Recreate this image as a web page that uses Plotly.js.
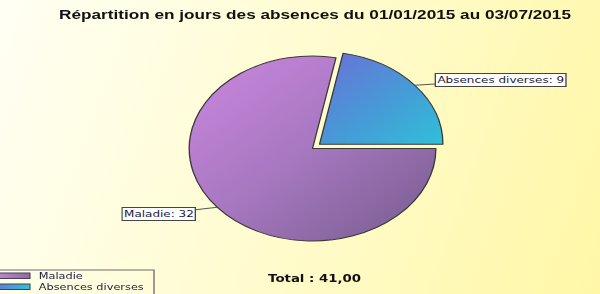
<!DOCTYPE html>
<html>
<head>
<meta charset="utf-8">
<script src="https://cdn.plot.ly/plotly-3.0.1.min.js"></script>
<style>
  html, body { margin: 0; padding: 0; width: 600px; height: 294px; overflow: hidden; }
  body { background: linear-gradient(110deg, #fffff4 0%, #fffcd2 45%, #fff7a6 100%); }
  /* the chart is laid out at 450px and widened to 600px, giving the oval pie and wide lettering */
  #chart { width: 450px; height: 294px; transform: scaleX(1.33333); transform-origin: 0 0; }
</style>
</head>
<body>
<div id="chart"></div>
<script>
const chartTitle = 'Répartition en jours des absences du 01/01/2015 au 03/07/2015';
const categories = ['Maladie', 'Absences diverses'];
const jours = [32, 9];
const pulls = [0, 0.074];

// slice gradients (diagonal) and legend swatch gradients (horizontal)
const sliceGradients = [
  [['0%', '#cc87e0'], ['50%', '#a677bf'], ['100%', '#755c8c']],
  [['0%', '#6b70d8'], ['55%', '#469bd6'], ['100%', '#2fc0d8']]
];
const swatchGradients = [
  [['0%', '#c688de'], ['100%', '#8f68ac']],
  [['0%', '#5f78d8'], ['100%', '#30c0e0']]
];

// geometry of the unscaled drawing
const W = 450, H = 294;
const cx = 234.4, cy = 148.5, R = 92.5;
const maxPull = Math.max(...pulls);
const half = R * (1 + maxPull);
const pieDomain = {
  x: [(cx - half) / W, (cx + half) / W],
  y: [1 - (cy + half) / H, 1 - (cy - half) / H]
};

const total = jours.reduce((a, b) => a + b, 0);
const rotation = 90; // first slice starts at 3 o'clock, going clockwise

// point on the rim at the middle of each slice, used as leader-line tip
let acc = 0;
const tips = jours.map((v, i) => {
  const a0 = rotation + acc / total * 360;
  acc += v;
  const a1 = rotation + acc / total * 360;
  const mid = (a0 + a1) / 2 * Math.PI / 180;
  const ox = cx + pulls[i] * R * Math.sin(mid);
  const oy = cy - pulls[i] * R * Math.cos(mid);
  return [ox + R * Math.sin(mid), oy - R * Math.cos(mid)];
});

// centres of the value boxes
const boxCentres = [[119.1, 214.0], [375.4, 79.5]];

const labelAnnotations = jours.map((v, i) => ({
  xref: 'paper', yref: 'paper',
  x: tips[i][0] / W, y: 1 - tips[i][1] / H,
  ax: boxCentres[i][0] - tips[i][0], ay: boxCentres[i][1] - tips[i][1],
  text: categories[i] + ': ' + v,
  showarrow: true, arrowhead: 0, arrowwidth: 1, arrowcolor: '#555',
  standoff: 0,
  bgcolor: '#ffffff', bordercolor: '#444', borderwidth: 1, borderpad: 1,
  font: { family: 'DejaVu Sans', size: 9, color: '#1a1a3a' }
}));

// hand-made legend in the lower-left corner
const legendTop = 270, rowH = 11;
const legendShapes = [{
  type: 'rect', xref: 'paper', yref: 'paper',
  x0: -5 / W, x1: 115.5 / W, y0: 1 - 300 / H, y1: 1 - legendTop / H,
  line: { color: '#6a6a6a', width: 1 }, fillcolor: 'rgba(0,0,0,0)'
}].concat(categories.map((c, i) => ({
  type: 'rect', xref: 'paper', yref: 'paper',
  x0: -5 / W, x1: 22.5 / W,
  y0: 1 - (legendTop + 8.5 + i * rowH) / H, y1: 1 - (legendTop + 3 + i * rowH) / H,
  line: { color: '#444', width: 0.8 }, fillcolor: swatchGradients[i][0][1]
})));
const legendTexts = categories.map((c, i) => ({
  xref: 'paper', yref: 'paper',
  x: 26.5 / W, xanchor: 'left',
  y: 1 - (legendTop + 5.7 + i * rowH) / H, yanchor: 'middle',
  text: c, showarrow: false,
  font: { family: 'DejaVu Sans', size: 8.5, color: '#1a1a40' }
}));

const totalAnnotation = {
  xref: 'paper', yref: 'paper',
  x: 236 / W, y: 1 - 278 / H, xanchor: 'center', yanchor: 'middle',
  text: 'Total : ' + total.toFixed(2).replace('.', ','),
  showarrow: false,
  font: { family: 'DejaVu Sans', size: 10, weight: 'bold', color: '#111' }
};

const data = [{
  type: 'pie',
  labels: categories,
  values: jours,
  pull: pulls,
  sort: false,
  direction: 'clockwise',
  rotation: rotation,
  textinfo: 'none',
  hoverinfo: 'label+value',
  domain: pieDomain,
  marker: {
    colors: sliceGradients.map(g => g[1][1]),
    line: { color: '#3a3a3a', width: 1 }
  },
  showlegend: false
}];

const layout = {
  width: W, height: H,
  margin: { l: 0, r: 0, t: 0, b: 0 },
  paper_bgcolor: 'rgba(0,0,0,0)',
  plot_bgcolor: 'rgba(0,0,0,0)',
  showlegend: false,
  title: {
    text: chartTitle,
    font: { family: 'Liberation Sans, Arial', size: 12.9, weight: 'bold', color: '#111' },
    x: 0.525, xanchor: 'center', xref: 'paper',
    y: 1 - 14 / H, yanchor: 'middle', yref: 'container'
  },
  shapes: legendShapes,
  annotations: labelAnnotations.concat(legendTexts, [totalAnnotation])
};

function addGradient(defs, id, stops, x2, y2) {
  const ns = 'http://www.w3.org/2000/svg';
  const g = document.createElementNS(ns, 'linearGradient');
  g.setAttribute('id', id);
  g.setAttribute('x1', '0'); g.setAttribute('y1', '0');
  g.setAttribute('x2', x2); g.setAttribute('y2', y2);
  stops.forEach(([off, col]) => {
    const s = document.createElementNS(ns, 'stop');
    s.setAttribute('offset', off);
    s.setAttribute('stop-color', col);
    g.appendChild(s);
  });
  defs.appendChild(g);
}

Plotly.newPlot('chart', data, layout, { staticPlot: true }).then(gd => {
  const svg = gd.querySelector('svg.main-svg');
  let defs = svg.querySelector('defs');
  if (!defs) {
    defs = document.createElementNS('http://www.w3.org/2000/svg', 'defs');
    svg.insertBefore(defs, svg.firstChild);
  }
  sliceGradients.forEach((st, i) => addGradient(defs, 'slice-grad-' + i, st, '1', '1'));
  swatchGradients.forEach((st, i) => addGradient(defs, 'swatch-grad-' + i, st, '1', '0'));

  gd.querySelectorAll('g.slice path.surface').forEach((p, i) => {
    p.style.fill = 'url(#slice-grad-' + i + ')';
  });
  const shapePaths = gd.querySelectorAll('.shapelayer path');
  for (let i = 0; i < categories.length; i++) {
    const p = shapePaths[i + 1];
    if (p) p.style.fill = 'url(#swatch-grad-' + i + ')';
  }
});
</script>
</body>
</html>
